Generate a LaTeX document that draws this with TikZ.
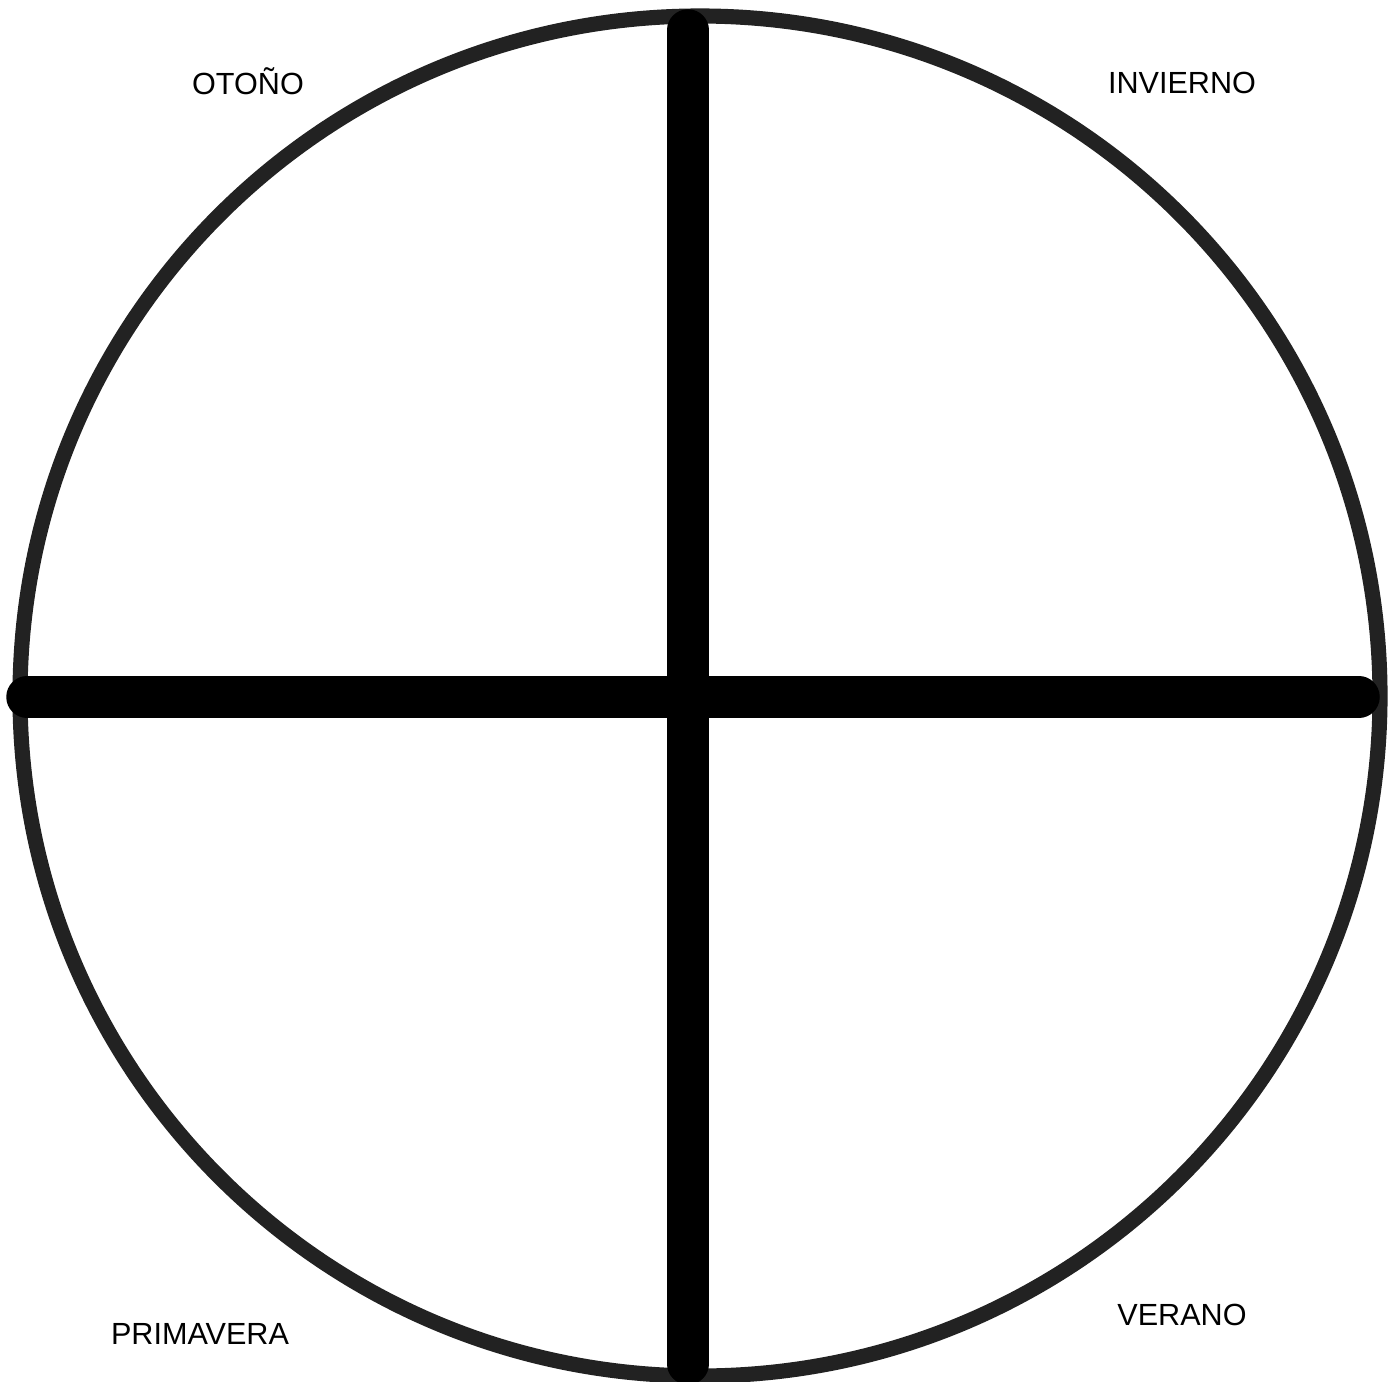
\documentclass[tikz,border=0pt]{standalone}
\usepackage{fontspec}
\setmainfont{Liberation Sans}
\definecolor{rimgray}{HTML}{222222}
\begin{document}
\begin{tikzpicture}[x=0.01cm, y=-0.01cm, every node/.style={align=center, font=\fontsize{8.7}{10}\selectfont}]
  \useasboundingbox (0, 0) rectangle (1400, 1382);
  % Outer circle
  \draw[rimgray, line width=4.3pt] (700, 696) circle[radius=680];

  % Cross ends
  \coordinate (top) at (688, 30);
  \coordinate (bottom) at (688, 1364);
  \coordinate (left) at (27, 697);
  \coordinate (right) at (1359, 697);
  \draw[line width=11.8pt, line cap=round] (top) -- (bottom);
  \draw[line width=11.8pt, line cap=round] (left) -- (right);

  % Season labels
  \node (otono) at (248, 81) {OTOÑO};
  \node (invierno) at (1182, 83) {INVIERNO};
  \node (primavera) at (200, 1334) {PRIMAVERA};
  \node (verano) at (1182, 1315) {VERANO};
\end{tikzpicture}
\end{document}
